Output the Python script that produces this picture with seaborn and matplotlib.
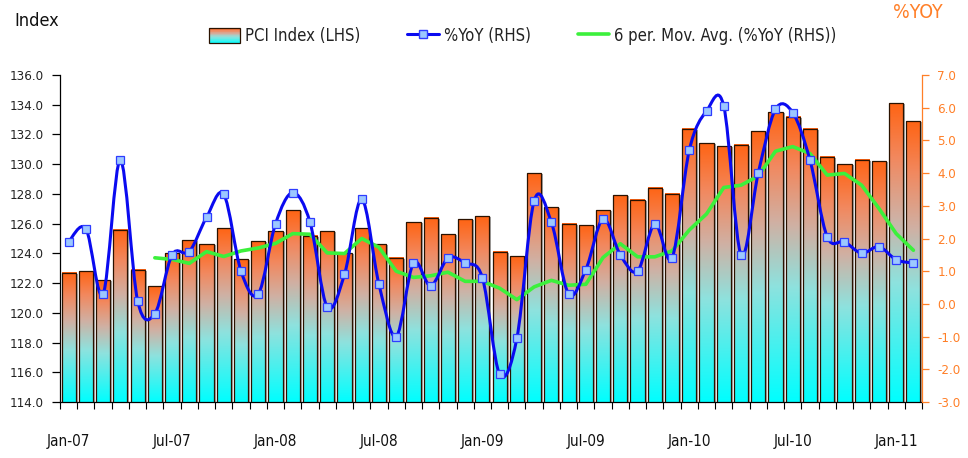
"""
PCI Index (LHS bars) with %YoY and its 6-period moving average (RHS lines).
Saves out.png (968x458).
"""

import numpy as np
import pandas as pd
import matplotlib
matplotlib.use("Agg")
import matplotlib.pyplot as plt
import matplotlib.transforms as mtransforms
from matplotlib.colors import LinearSegmentedColormap
from matplotlib.patches import Rectangle, PathPatch
from matplotlib.path import Path
from matplotlib.lines import Line2D
from matplotlib.legend_handler import HandlerBase
import seaborn as sns

# --- DATA ---
MONTHS = pd.date_range("2007-01-01", "2011-02-01", freq="MS").strftime("%b-%y").tolist()

PCI_INDEX = [
    122.7, 122.8, 122.2, 125.6, 122.9, 121.8, 124.0, 124.9, 124.6, 125.7,
    123.6, 124.8, 125.5, 126.9, 125.2, 125.5, 124.0, 125.7, 124.6, 123.7,
    126.1, 126.4, 125.3, 126.3, 126.5, 124.1, 123.8, 129.4, 127.1, 126.0,
    125.9, 126.9, 127.9, 127.6, 128.4, 128.0, 132.4, 131.4, 131.2, 131.3,
    132.2, 133.5, 133.2, 132.4, 130.5, 130.0, 130.3, 130.2, 134.1, 132.9,
]

YOY_PCT = [
    1.90, 2.30, 0.30, 4.40, 0.10, -0.30, 1.50, 1.60, 2.65, 3.35,
    1.00, 0.30, 2.45, 3.40, 2.50, -0.10, 0.90, 3.20, 0.60, -1.00,
    1.25, 0.55, 1.40, 1.25, 0.80, -2.15, -1.05, 3.15, 2.50, 0.30,
    1.05, 2.60, 1.50, 1.00, 2.45, 1.40, 4.70, 5.90, 6.05, 1.50,
    4.00, 5.95, 5.85, 4.40, 2.05, 1.90, 1.55, 1.75, 1.35, 1.25,
]

# 6-period moving average, first value at Jun-07
MOV_AVG = [
    1.41, 1.36, 1.24, 1.60, 1.45, 1.62, 1.71, 1.85, 2.15, 2.13,
    1.56, 1.54, 2.00, 1.73, 1.00, 0.81, 0.86, 0.97, 0.69, 0.69,
    0.48, 0.13, 0.52, 0.72, 0.57, 0.60, 1.42, 1.84, 1.44, 1.44,
    1.62, 2.26, 2.75, 3.56, 3.63, 3.91, 4.67, 4.81, 4.60, 3.94,
    3.99, 3.63, 2.92, 2.15, 1.64,
]
MA_START = 5

LEFT_TICKS = np.arange(114, 136.1, 2)
RIGHT_TICKS = np.arange(-3, 7.1, 1)

# --- STYLE ---
AXIS_ORANGE = "#FF7F27"
BLUE = "#0A0AF0"
MARKER_FACE = "#9CC8FF"
GREEN = "#3CF03C"
EDGE = "#2A1200"

BAR_CMAP = LinearSegmentedColormap.from_list(
    "pci",
    [(0.0, "#00FFFF"), (0.40, "#8EE2DE"), (0.62, "#D0B0A3"),
     (0.82, "#F2885E"), (1.0, "#FF6414")],
)


class GradientPatchHandler(HandlerBase):
    """Legend key drawn as a vertical cyan->orange gradient box."""

    def create_artists(self, legend, orig_handle, xdescent, ydescent,
                       width, height, fontsize, trans):
        n = 24
        arts = []
        for k in range(n):
            arts.append(Rectangle(
                (-xdescent, -ydescent + height * k / n), width, height / n * 1.05,
                facecolor=BAR_CMAP((k + 0.5) / n), edgecolor="none", transform=trans))
        arts.append(Rectangle((-xdescent, -ydescent), width, height, fill=False,
                              edgecolor=EDGE, lw=0.9, transform=trans))
        return arts


def smooth_path(xs, ys):
    """Catmull-Rom style cubic Bezier through the points (like a smoothed line)."""
    pts = np.column_stack([xs, ys]).astype(float)
    verts = [pts[0]]
    codes = [Path.MOVETO]
    n = len(pts)
    for i in range(n - 1):
        p0 = pts[i - 1] if i > 0 else pts[i]
        p1 = pts[i]
        p2 = pts[i + 1]
        p3 = pts[i + 2] if i + 2 < n else pts[i + 1]
        c1 = p1 + (p2 - p0) / 6.0
        c2 = p2 - (p3 - p1) / 6.0
        verts += [c1, c2, p2]
        codes += [Path.CURVE4] * 3
    return Path(verts, codes)


def main():
    sns.set_theme(style="white")
    plt.rcParams["font.family"] = ["Liberation Sans Narrow", "DejaVu Sans"]
    plt.rcParams["font.stretch"] = "condensed"

    fig = plt.figure(figsize=(9.68, 4.58), dpi=100)
    ax = fig.add_axes([0.062, 0.1223, 0.8905, 0.7139])

    df = pd.DataFrame({"Month": MONTHS, "PCI": PCI_INDEX})
    sns.barplot(data=df, x="Month", y="PCI", ax=ax, width=0.82,
                fill=False, edgecolor=EDGE, linewidth=0.9, zorder=3)

    # gradient fill + drop shadow for each bar
    shadow_tr = mtransforms.offset_copy(ax.transData, fig, x=2, y=-1, units="dots")
    grad = np.linspace(0, 1, 256).reshape(-1, 1)
    for p in list(ax.patches):
        x0, w, top = p.get_x(), p.get_width(), p.get_y() + p.get_height()
        ax.add_patch(Rectangle((x0, 114), w, top - 114, transform=shadow_tr,
                               facecolor="#A8A8A8", edgecolor="none", zorder=1))
        ax.imshow(grad, extent=(x0, x0 + w, 114, top), origin="lower",
                  aspect="auto", cmap=BAR_CMAP, zorder=2, interpolation="bilinear")
    ax.set_ylim(114, 136)
    ax.set_xlim(-0.5, len(MONTHS) - 0.5)

    # left axis
    ax.set_yticks(LEFT_TICKS)
    ax.set_yticklabels([f"{v:.1f}" for v in LEFT_TICKS])
    ax.tick_params(axis="y", direction="out", length=6, width=0.9, color="black",
                   pad=6, labelsize=9.5, labelcolor="#222222", left=True)
    ax.set_xlabel("")
    ax.set_ylabel("")

    # x axis: tick marks between bars, labels every 6 months
    ax.set_xticks(np.arange(-0.5, len(MONTHS), 1.0))
    ax.set_xticklabels([])
    ax.tick_params(axis="x", which="major", direction="out", length=5, width=0.8,
                   color="black", bottom=True)
    lab_pos = list(range(0, len(MONTHS), 6))
    ax.set_xticks(lab_pos, minor=True)
    ax.set_xticklabels([MONTHS[i] for i in lab_pos], minor=True)
    ax.tick_params(axis="x", which="minor", length=0, pad=23, labelsize=11,
                   labelcolor="#111111")

    for s in ["top", "right"]:
        ax.spines[s].set_visible(False)
    for s in ["left", "bottom"]:
        ax.spines[s].set_color("black")
        ax.spines[s].set_linewidth(0.9)
    ax.grid(False)

    # right axis: %YoY lines
    ax2 = ax.twinx()
    ax2.set_ylim(-3, 7)
    x_all = np.arange(len(YOY_PCT))
    ax2.add_patch(PathPatch(smooth_path(x_all, YOY_PCT), facecolor="none",
                            edgecolor=BLUE, lw=2.2, zorder=4, capstyle="round"))
    sns.lineplot(x=np.arange(MA_START, MA_START + len(MOV_AVG)), y=MOV_AVG, ax=ax2,
                 color=GREEN, lw=2.6, zorder=3)
    ax2.plot(x_all, YOY_PCT, linestyle="none", marker="s", markersize=5.5,
             markerfacecolor=MARKER_FACE, markeredgecolor="#2E3CFF",
             markeredgewidth=0.9, zorder=5)
    ax2.set_xlim(-0.5, len(MONTHS) - 0.5)
    ax2.set_yticks(RIGHT_TICKS)
    ax2.set_yticklabels([f"{v:.1f}" for v in RIGHT_TICKS])
    ax2.tick_params(axis="y", direction="out", length=5, width=0.9, color=AXIS_ORANGE,
                    pad=6, labelsize=9.5, labelcolor=AXIS_ORANGE, right=True)
    ax2.set_ylabel("")
    for s in ["top", "left", "bottom"]:
        ax2.spines[s].set_visible(False)
    ax2.spines["right"].set_color(AXIS_ORANGE)
    ax2.spines["right"].set_linewidth(0.9)
    ax2.grid(False)

    # axis titles
    fig.text(0.0145, 0.955, "Index", fontsize=13, color="#111111", ha="left", va="center")
    fig.text(0.974, 0.972, "%YOY", fontsize=14, color=AXIS_ORANGE, ha="right", va="center")

    # legend
    handles = [
        Rectangle((0, 0), 1, 1),
        Line2D([], [], color=BLUE, lw=2.2, marker="s", markersize=5.5,
               markerfacecolor=MARKER_FACE, markeredgecolor="#2E3CFF"),
        Line2D([], [], color=GREEN, lw=2.6),
    ]
    labels = ["PCI Index (LHS)", "%YoY (RHS)", "6 per. Mov. Avg. (%YoY (RHS))"]
    fig.legend(handles, labels, loc="center", bbox_to_anchor=(0.54, 0.921), ncol=3,
               frameon=False, fontsize=12, handlelength=1.9, handleheight=1.05,
               handletextpad=0.3, columnspacing=2.8, labelcolor="#222222",
               handler_map={Rectangle: GradientPatchHandler()})

    fig.savefig("out.png", dpi=100)
    print("saved out.png")


if __name__ == "__main__":
    main()
